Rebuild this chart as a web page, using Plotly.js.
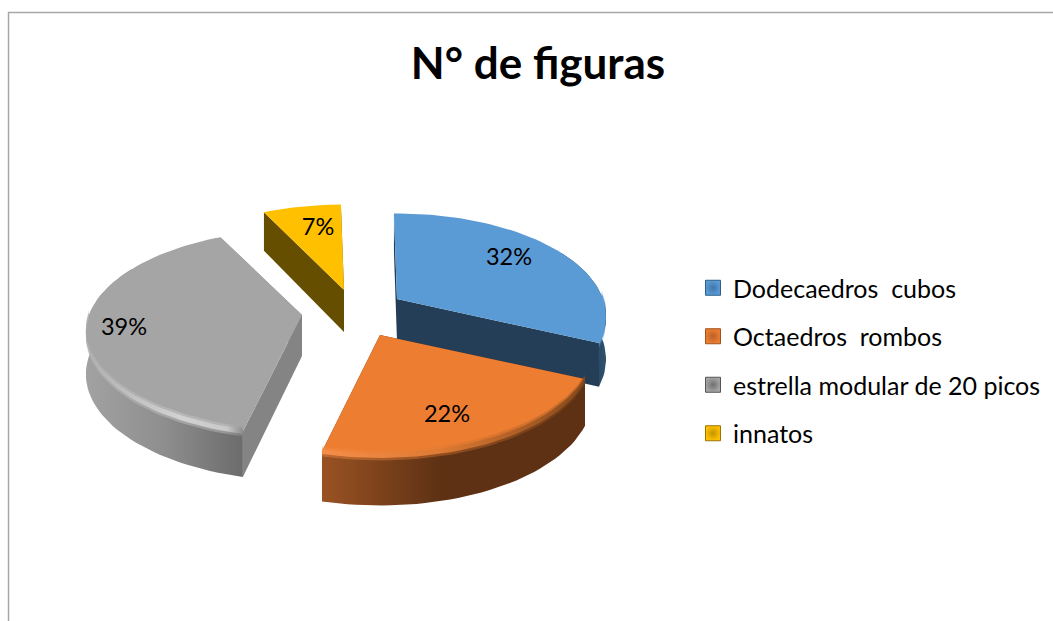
<!DOCTYPE html>
<html><head><meta charset="utf-8">
<script src="https://cdn.plot.ly/plotly-3.0.1.min.js"></script>
<style>html,body{margin:0;padding:0;background:#fff}#c{width:1053px;height:621px}</style>
</head><body><div id="c"></div>
<script>
// ---- data ----
const categories = ['Dodecaedros  cubos', 'Octaedros  rombos', 'estrella modular de 20 picos', 'innatos'];
const values = [32, 22, 39, 7];
const chartTitle = 'N° de figuras';

// ---- style & projection of the exploded 3D pie (page-pixel axes) ----
const topColors = ['#5B9BD5', '#ED7D31', '#A5A5A5', '#FFC000'];
const cutColors = ['#233E56', '#5E3114', '#848484', '#664E00'];
const wallScales = [
  [[0, '#233E56'], [0.6, '#233E56'], [1, '#2F526F']],
  [[0, '#9A5223'], [0.45, '#5E3114'], [1, '#5E3114']],
  [[0, '#A2A2A2'], [0.5, '#8E8E8E'], [1, '#6C6C6C']],
  [[0, '#664E00'], [1, '#664E00']]
];
const bevelScales = [
  [[0, '#5B9BD5'], [0.75, '#5B9BD5'], [1, '#3A6C97']],
  [[0, '#F58D48'], [0.45, '#DD7A33'], [1, '#85481B']],
  [[0, '#B0B0B0'], [0.6, '#D2D2D2'], [0.9, '#C8C8C8'], [1, '#8C8C8C']],
  [[0, '#FFC000'], [1, '#FFC000']]
];
const swatchEdge = ['#2E5F8C', '#A0521B', '#555555', '#9C7500'];
const swatchCore = ['#3F76A8', '#B9602A', '#707070', '#C49400'];
const sliceApex = [[397, 299], [380, 335], [302, 315], [344, 290]];
const sliceDepth = [42, 45, 41, 42];
const sliceRx = [206, 209, 213, 209];
const labelAt = [[509, 259], [447, 416], [124, 329], [318, 229]];
const RY = 100, PERSP = 0.17;

const rad = d => d * Math.PI / 180;
function pt(i, t, r, drop) {
  const c = sliceApex[i], a = rad(t), d = 1 + PERSP * r * Math.cos(a);
  return [c[0] + sliceRx[i] * r * Math.sin(a) / d,
          c[1] - RY * r * Math.cos(a) / d + (drop || 0)];
}
const depthAt = (i, t, r) => sliceDepth[i] / (1 + 0.1 * r * Math.cos(rad(t)));
function arc(s, t1, t2, dropFn) {
  const pts = [], n = Math.max(2, Math.ceil(Math.abs(t2 - t1) / 2));
  for (let k = 0; k <= n; k++) {
    const t = t1 + (t2 - t1) * k / n;
    pts.push(pt(s, t, 1, dropFn ? dropFn(t) : 0));
  }
  return pts;
}
function poly(pts, color, scale, opacity) {
  const tr = {
    x: pts.map(p => p[0]).concat(pts[0][0]),
    y: pts.map(p => p[1]).concat(pts[0][1]),
    mode: 'lines', fill: 'toself', line: {width: 0, color: color},
    fillcolor: color, showlegend: false, hoverinfo: 'skip'
  };
  if (scale) tr.fillgradient = {type: 'horizontal', colorscale: scale};
  if (opacity) tr.opacity = opacity;
  return tr;
}

const total = values.reduce((a, b) => a + b, 0);
const spans = [];
let acc = -1;
values.forEach(v => { const s = v / total * 360; spans.push([acc, acc + s]); acc += s; });

const traces = [];
[0, 3, 2, 1].forEach(i => {
  const t1 = spans[i][0], t2 = spans[i][1];
  // radial cut faces
  [t1, t2].forEach(t => {
    const o = pt(i, t, 1), ob = pt(i, t, 1, depthAt(i, t, 1));
    const a = pt(i, t, 0), ab = pt(i, t, 0, depthAt(i, t, 0));
    traces.push(poly([a, o, ob, ab], cutColors[i]));
  });
  // curved outer wall (extended behind the top face so the silhouette stays smooth)
  const w1 = Math.max(t1, 60), w2 = Math.min(t2, 300);
  if (w2 > w1) {
    const up = arc(i, w1, w2), low = arc(i, w1, w2, t => depthAt(i, t, 1)).reverse();
    traces.push(poly(up.concat(low), wallScales[i][0][1], wallScales[i]));
  }
  // top face
  const face = [pt(i, t1, 0)].concat(arc(i, t1, t2));
  traces.push(poly(face, topColors[i]));
  // soft rounded bevel along the near rim
  const b1 = Math.max(t1, 88), b2 = Math.min(t2, 270);
  if (b2 > b1 && i !== 3) {
    [[5, 0.4], [2.5, 1]].forEach(([w, op]) => {
      const a = arc(i, b1, b2, () => -w), b = arc(i, b1, b2, () => w).reverse();
      traces.push(poly(a.concat(b), bevelScales[i][0][1], bevelScales[i], op));
    });
  }
});

// percentage labels
traces.push({
  x: labelAt.map(p => p[0]), y: labelAt.map(p => p[1]),
  text: values.map(v => Math.round(v / total * 100) + '%'),
  mode: 'text', textposition: 'middle center',
  textfont: {family: 'Lato, sans-serif', size: 23.5, color: '#000'},
  showlegend: false, hoverinfo: 'skip'
});

// legend entries
categories.forEach((name, i) => traces.push({
  x: [null], y: [null], name: name, legendgroup: 'g' + i,
  mode: 'markers',
  marker: {symbol: 'square', size: 15, color: topColors[i],
           gradient: {type: 'radial', color: swatchCore[i]},
           line: {color: swatchEdge[i], width: 1}}
}));

const layout = {
  width: 1053, height: 621,
  margin: {l: 0, r: 0, t: 0, b: 0},
  paper_bgcolor: '#fff', plot_bgcolor: '#fff',
  font: {family: 'Lato, sans-serif', color: '#000'},
  title: {text: '<b>' + chartTitle + '</b>', x: 538 / 1053, xanchor: 'center',
          y: 1 - 64 / 621, yanchor: 'middle',
          font: {family: 'Lato, sans-serif', size: 44, color: '#000'}},
  xaxis: {range: [0, 1053], visible: false, fixedrange: true},
  yaxis: {range: [621, 0], visible: false, fixedrange: true},
  showlegend: true,
  legend: {x: 693 / 1053, xanchor: 'left', y: 1 - 265 / 621, yanchor: 'top',
           font: {family: 'Lato, sans-serif', size: 25, color: '#000'},
           tracegroupgap: 13, bgcolor: 'rgba(0,0,0,0)', itemclick: false, itemdoubleclick: false},
  shapes: [{type: 'path', xref: 'paper', yref: 'paper',
            path: 'M 0.0081 0 L 0.0081 0.98 L 1 0.98',
            line: {color: '#A8A8A8', width: 1.5}}]
};
Plotly.newPlot('c', traces, layout, {displayModeBar: false, staticPlot: true});
</script></body></html>
